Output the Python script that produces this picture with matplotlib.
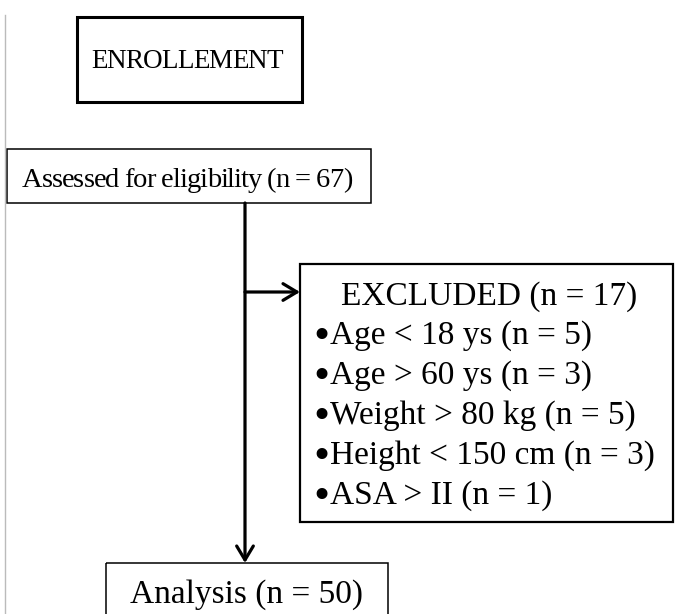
import matplotlib
matplotlib.use("Agg")
import matplotlib.pyplot as plt
from matplotlib.patches import Rectangle, FancyArrowPatch

# ---- data ----
stage_title = "ENROLLEMENT"
assessed_label = "Assessed for eligibility"
assessed_n = 67
excluded_label = "EXCLUDED"
excluded_n = 17
exclusion_reasons = ["Age < 18 ys", "Age > 60 ys", "Weight > 80 kg", "Height < 150 cm", "ASA > II"]
exclusion_counts = [5, 3, 5, 3, 1]
analysis_label = "Analysis"
analysis_n = 50

W, H = 675, 614
fig = plt.figure(figsize=(W / 100, H / 100), dpi=100)
ax = fig.add_axes([0, 0, 1, 1])
ax.set_xlim(0, W)
ax.set_ylim(H, 0)
ax.axis("off")
renderer = fig.canvas.get_renderer()

FONT = "Liberation Serif"
FS = 24


def measure(s, fs):
    t = ax.text(0, 0, s, fontsize=fs, family=FONT)
    w = t.get_window_extent(renderer).width
    t.remove()
    return w


def condensed_text(xc, yb, s, target_width, fs):
    """Text centred at xc on baseline yb, with letter spacing tightened to fit target_width."""
    full = measure(s, fs)
    bar = measure("|", fs)
    delta = (full - target_width) / max(len(s) - 1, 1)
    x0 = xc - target_width / 2
    for i, ch in enumerate(s):
        if ch == " ":
            continue
        adv = measure(s[:i] + "|", fs) - bar if i > 0 else 0
        ax.text(x0 + adv - i * delta, yb, ch, fontsize=fs, family=FONT,
                ha="left", va="baseline")


# left grey rule
ax.plot([5, 5], [15, H], color="#bbbbbb", lw=1)


def box(x0, y0, x1, y1, lw):
    ax.add_patch(Rectangle((x0, y0), x1 - x0, y1 - y0, fill=False, ec="black", lw=lw))


# Enrollment box
box(77, 17, 302, 102, 2.2)
condensed_text(187, 68, stage_title, 192, 19.5)

# Assessed box
box(7, 149, 371, 203, 1.1)
condensed_text(187, 187, f"{assessed_label} (n = {assessed_n})", 330, 20.5)

# vertical arrow
ax.add_patch(FancyArrowPatch((245, 203), (245, 563), arrowstyle="->,head_length=10,head_width=6",
                             lw=2.3, color="black", mutation_scale=1, shrinkA=0, shrinkB=0))
# horizontal arrow
ax.add_patch(FancyArrowPatch((245, 292), (300, 292), arrowstyle="->,head_length=10,head_width=6",
                             lw=2.3, color="black", mutation_scale=1, shrinkA=0, shrinkB=0))

# Excluded box
box(300, 264, 673, 522, 1.6)
ax.text(489, 305, f"{excluded_label} (n = {excluded_n})", ha="center", va="baseline",
        fontsize=FS, family=FONT)
y = 344
for reason, cnt in zip(exclusion_reasons, exclusion_counts):
    ax.text(313, y + 5, "\u2022", ha="left", va="baseline", fontsize=33, family=FONT)
    ax.text(330, y, f"{reason} (n = {cnt})", ha="left", va="baseline",
            fontsize=FS, family=FONT)
    y += 40

# Analysis box
box(106, 563, 388, 630, 1.1)
ax.text(246, 603, f"{analysis_label} (n = {analysis_n})", ha="center", va="baseline",
        fontsize=FS, family=FONT)

fig.savefig("out.png", dpi=100)
